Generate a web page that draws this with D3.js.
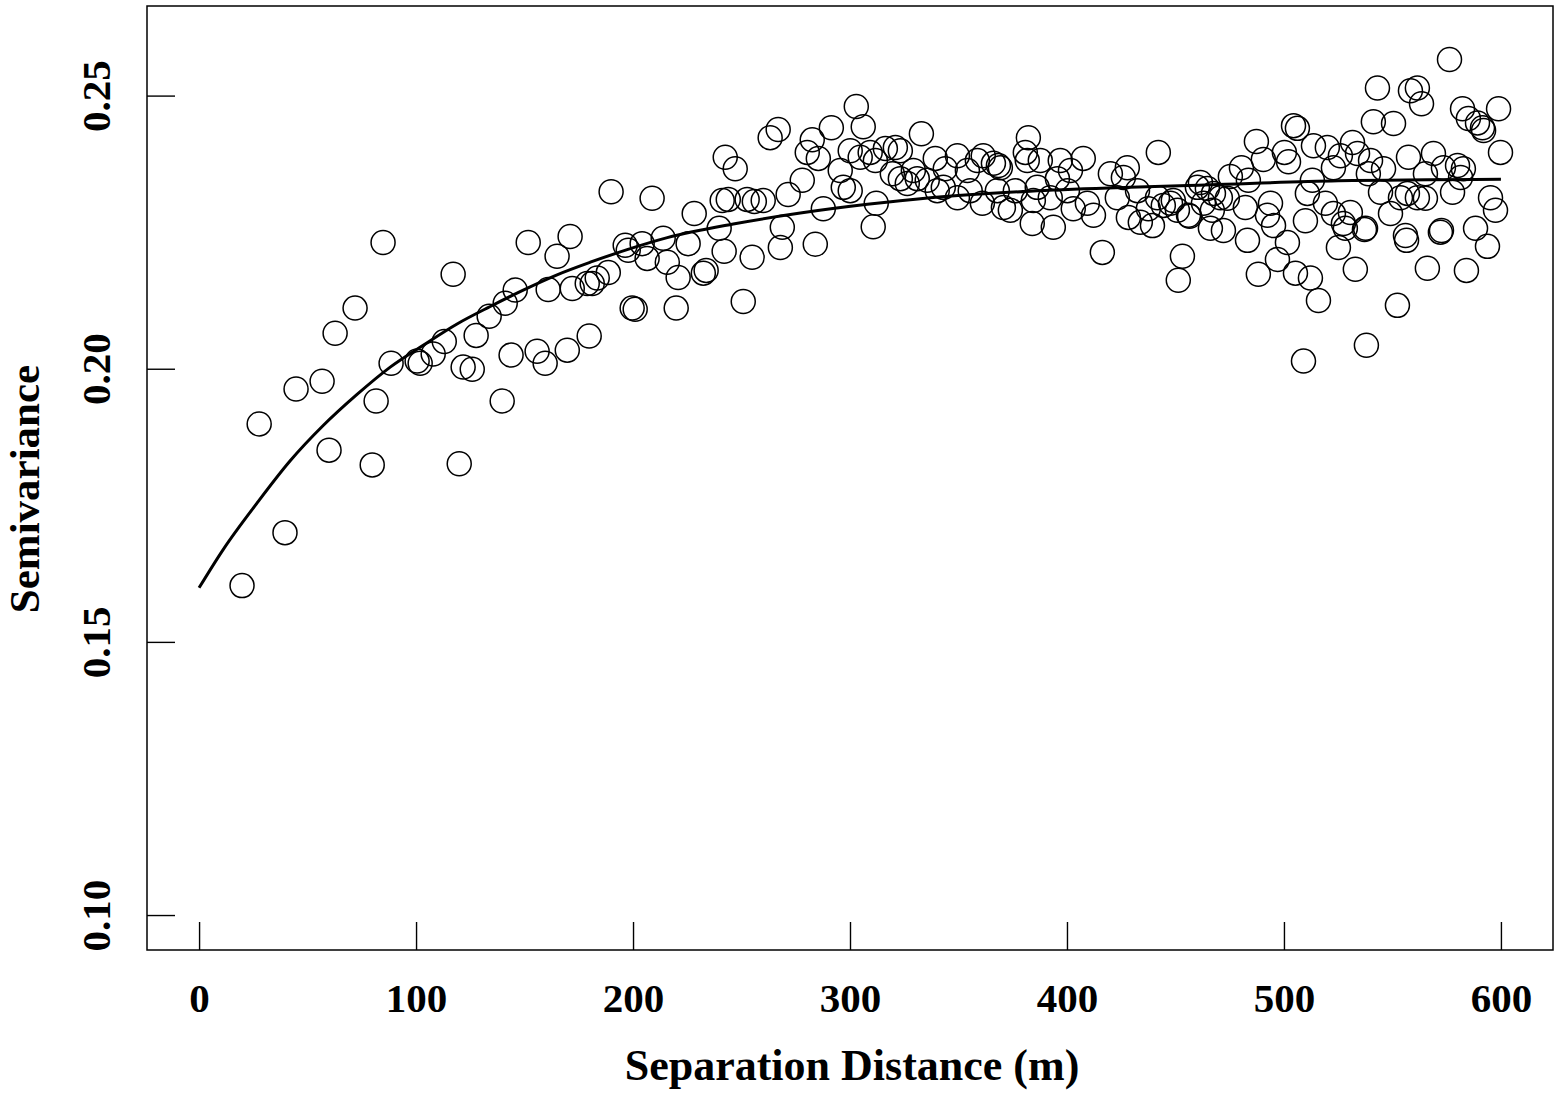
<!DOCTYPE html>
<html>
<head>
<meta charset="utf-8">
<script src="https://cdn.jsdelivr.net/npm/d3@7"></script>
<style>
  body { margin: 0; background: #fff; }
  svg text { font-family: "Liberation Serif", "Times New Roman", serif; font-weight: bold; fill: #000; }
</style>
</head>
<body>
<svg id="chart" width="1559" height="1093"></svg>
<script>
// empirical semivariogram points: separation distance (m)
const sepDist = [
  19.8, 39.6, 27.7, 44.7, 56.7, 59.9, 62.7, 71.9, 84.8, 79.8, 81.6, 88.5, 117.1, 100.5, 101.9, 107.9,
  113.0, 119.9, 121.7, 125.9, 127.7, 133.7, 139.7, 141.1, 145.7, 143.8, 151.7, 155.8, 159.5, 160.9,
  165.0, 171.0, 169.7, 172.0, 178.9, 181.2, 183.5, 188.6, 179.8, 189.9,
  196.4, 197.8, 199.6, 201.0, 204.2, 206.5, 208.8, 213.9, 215.8, 219.9, 220.8, 225.4, 228.2, 233.7,
  232.4, 239.7, 242.0, 241.1, 243.9, 242.5, 247.1, 250.8, 252.6, 254.9, 255.9, 260.0, 263.2, 266.9,
  268.8, 267.9, 271.5, 278.0, 280.3, 282.6, 285.4, 284.0, 287.7, 291.4,
  302.9, 306.1, 332.9, 382.2, 442.1, 300.1, 304.7, 309.3, 311.7, 316.3, 320.9, 323.2, 319.5, 323.2,
  326.4, 329.2, 331.0, 295.5, 296.9, 300.1, 312.1, 310.7, 335.6, 339.3, 340.2, 343.0, 343.9, 349.5,
  349.5, 354.1, 355.4, 358.7, 361.4, 361.0, 366.1, 368.4, 369.3, 367.9, 370.7, 373.9, 376.2, 380.8,
  381.7, 384.5, 384.0, 386.3, 387.7, 392.3, 393.7, 395.6, 396.9, 400.2, 401.6, 402.9, 407.5, 409.4,
  412.2, 416.3, 420.0, 423.2, 426.0, 427.8, 428.3, 432.5, 433.8, 437.5, 439.4, 441.7, 444.4, 447.7,
  576.3, 543.1, 558.3, 561.5, 563.4, 598.9, 582.3, 585.0, 589.2, 591.5, 592.0, 599.8, 541.2, 550.5,
  504.4, 506.2, 487.3, 513.6, 520.0, 531.6, 500.2, 502.1, 490.5, 480.4, 475.3, 483.6, 461.5, 460.1,
  464.7, 467.5, 470.7, 473.9, 449.0, 450.9, 456.0, 456.5, 462.9, 467.0, 482.2, 493.8, 492.4, 495.2,
  483.2, 466.1, 472.1, 509.9, 510.8, 513.1, 522.8, 526.0, 533.9, 539.9, 538.9, 545.9, 544.5, 519.1,
  522.8, 530.6, 527.4, 537.6, 549.1, 553.7, 556.9, 561.5, 565.2, 557.4, 565.2, 568.9, 573.5, 580.0,
  582.7, 581.4, 577.7, 595.2, 597.5, 556.0, 572.6, 588.3, 453.2, 451.3, 488.2, 497.0, 501.6, 505.3,
  512.2, 515.9, 509.0, 525.1, 528.3, 532.9, 537.1, 538.0, 552.3, 556.5, 566.1, 572.1, 584.1, 593.8
];
// semivariance of each point, same order
const semivar = [
  0.1603, 0.1700, 0.1899, 0.1963, 0.1977, 0.1851, 0.2065, 0.2111, 0.2231, 0.1824, 0.1941, 0.2010, 0.2173, 0.2014, 0.2010, 0.2027,
  0.2050, 0.1826, 0.2003, 0.1999, 0.2061, 0.2096, 0.1941, 0.2120, 0.2144, 0.2025, 0.2231, 0.2032, 0.2010, 0.2145,
  0.2206, 0.2242, 0.2034, 0.2147, 0.2156, 0.2156, 0.2166, 0.2176, 0.2060, 0.2324,
  0.2226, 0.2217, 0.2111, 0.2109, 0.2229, 0.2202, 0.2312, 0.2239, 0.2195, 0.2111, 0.2167, 0.2229, 0.2284, 0.2180,
  0.2175, 0.2257, 0.2215, 0.2308, 0.2310, 0.2387, 0.2366, 0.2123, 0.2310, 0.2204, 0.2306, 0.2308, 0.2423, 0.2438,
  0.2259, 0.2222, 0.2319, 0.2345, 0.2396, 0.2419, 0.2385, 0.2228, 0.2293, 0.2441,
  0.2480, 0.2443, 0.2430, 0.2423, 0.2396, 0.2399, 0.2387, 0.2396, 0.2381, 0.2403, 0.2405, 0.2399, 0.2357, 0.2348,
  0.2339, 0.2363, 0.2348, 0.2363, 0.2332, 0.2326, 0.2303, 0.2260, 0.2345, 0.2385, 0.2326, 0.2332, 0.2366, 0.2390,
  0.2313, 0.2363, 0.2326, 0.2381, 0.2390, 0.2303, 0.2376, 0.2372, 0.2368, 0.2326, 0.2295, 0.2290, 0.2326, 0.2396,
  0.2381, 0.2308, 0.2266, 0.2332, 0.2381, 0.2313, 0.2259, 0.2348, 0.2381, 0.2326, 0.2363, 0.2293, 0.2385, 0.2303,
  0.2281, 0.2213, 0.2357, 0.2313, 0.2350, 0.2368, 0.2277, 0.2326, 0.2268, 0.2293, 0.2262, 0.2313, 0.2299, 0.2303,
  0.2566, 0.2514, 0.2509, 0.2514, 0.2485, 0.2476, 0.2476, 0.2458, 0.2450, 0.2441, 0.2436, 0.2396, 0.2452, 0.2449,
  0.2445, 0.2440, 0.2416, 0.2408, 0.2405, 0.2414, 0.2396, 0.2379, 0.2383, 0.2368, 0.2352, 0.2345, 0.2341, 0.2332,
  0.2330, 0.2321, 0.2313, 0.2312, 0.2308, 0.2290, 0.2281, 0.2279, 0.2303, 0.2290, 0.2295, 0.2303, 0.2281, 0.2262,
  0.2235, 0.2257, 0.2253, 0.2271, 0.2321, 0.2345, 0.2368, 0.2390, 0.2394, 0.2381, 0.2357, 0.2366, 0.2323, 0.2303,
  0.2284, 0.2286, 0.2266, 0.2257, 0.2284, 0.2313, 0.2321, 0.2313, 0.2312, 0.2387, 0.2357, 0.2394, 0.2368, 0.2372,
  0.2366, 0.2350, 0.2323, 0.2313, 0.2290, 0.2244, 0.2253, 0.2257, 0.2206, 0.2162, 0.2173, 0.2200, 0.2231, 0.2175,
  0.2166, 0.2125, 0.2014, 0.2222, 0.2257, 0.2182, 0.2255, 0.2043, 0.2116, 0.2235, 0.2184, 0.2250, 0.2180, 0.2224
];

// fitted model line
const fitDist = [0, 11.1, 26.7, 41.9, 57.2, 72.8, 88.1, 103.3, 118.9, 134.2, 149.4, 165, 180.3, 197.3,
  215.8, 246.2, 277.1, 308, 337, 383, 429, 452, 525, 600];
const fitGamma = [0.1599, 0.1669, 0.1754, 0.1831, 0.1896, 0.1953, 0.2003, 0.2043, 0.2082, 0.2114, 0.2144, 0.2172, 0.2195, 0.2218,
  0.2240, 0.2265, 0.2285, 0.2301, 0.2313, 0.2325, 0.2332, 0.2335, 0.2344, 0.2347];

const xTicks = [0, 100, 200, 300, 400, 500, 600];
const yTicks = [0.10, 0.15, 0.20, 0.25];

const svg = d3.select("#chart");
const plotLeft = 147, plotRight = 1553, plotTop = 6, plotBottom = 950;

const x = d3.scaleLinear().domain([-24, 624]).range([plotLeft, plotRight]);
const y = d3.scaleLinear().domain([0.0936, 0.2664]).range([plotBottom, plotTop]);

// points
const pts = sepDist.map((d, i) => ({ d: d, g: semivar[i] }));
svg.append("g")
  .selectAll("circle")
  .data(pts)
  .enter()
  .append("circle")
  .attr("cx", (p) => x(p.d))
  .attr("cy", (p) => y(p.g))
  .attr("r", 12)
  .attr("fill", "none")
  .attr("stroke", "#000")
  .attr("stroke-width", 1.5);

// fitted curve
const line = d3.line()
  .x((d) => x(d[0]))
  .y((d) => y(d[1]))
  .curve(d3.curveMonotoneX);

svg.append("path")
  .datum(fitDist.map((d, i) => [d, fitGamma[i]]))
  .attr("d", line)
  .attr("fill", "none")
  .attr("stroke", "#000")
  .attr("stroke-width", 3);

// axes, ticks point inwards like the original
const xAxis = svg.append("g")
  .attr("transform", `translate(0,${plotBottom})`)
  .call(d3.axisBottom(x).tickValues(xTicks).tickSize(-28).tickPadding(33).tickFormat(d3.format("d")));
xAxis.select(".domain").remove();
xAxis.selectAll("line").attr("stroke-width", 1.4);
xAxis.selectAll("text").style("font-size", "41px");

const yAxis = svg.append("g")
  .attr("transform", `translate(${plotLeft},0)`)
  .call(d3.axisLeft(y).tickValues(yTicks).tickSize(-28).tickFormat(d3.format(".2f")));
yAxis.select(".domain").remove();
yAxis.selectAll("line").attr("stroke-width", 1.4);
yAxis.selectAll("text")
  .style("font-size", "41px")
  .attr("x", null)
  .attr("dy", null)
  .attr("text-anchor", "middle")
  .attr("transform", "translate(-37,0) rotate(-90)");

// plot frame
svg.append("rect")
  .attr("x", plotLeft)
  .attr("y", plotTop)
  .attr("width", plotRight - plotLeft)
  .attr("height", plotBottom - plotTop)
  .attr("fill", "none")
  .attr("stroke", "#000")
  .attr("stroke-width", 1.5);

// axis titles
svg.append("text")
  .attr("x", (plotLeft + plotRight) / 2 + 2)
  .attr("y", 1080)
  .attr("text-anchor", "middle")
  .style("font-size", "44px")
  .text("Separation Distance (m)");

svg.append("text")
  .attr("transform", "translate(39,489) rotate(-90)")
  .attr("text-anchor", "middle")
  .style("font-size", "43px")
  .text("Semivariance");
</script>
</body>
</html>
